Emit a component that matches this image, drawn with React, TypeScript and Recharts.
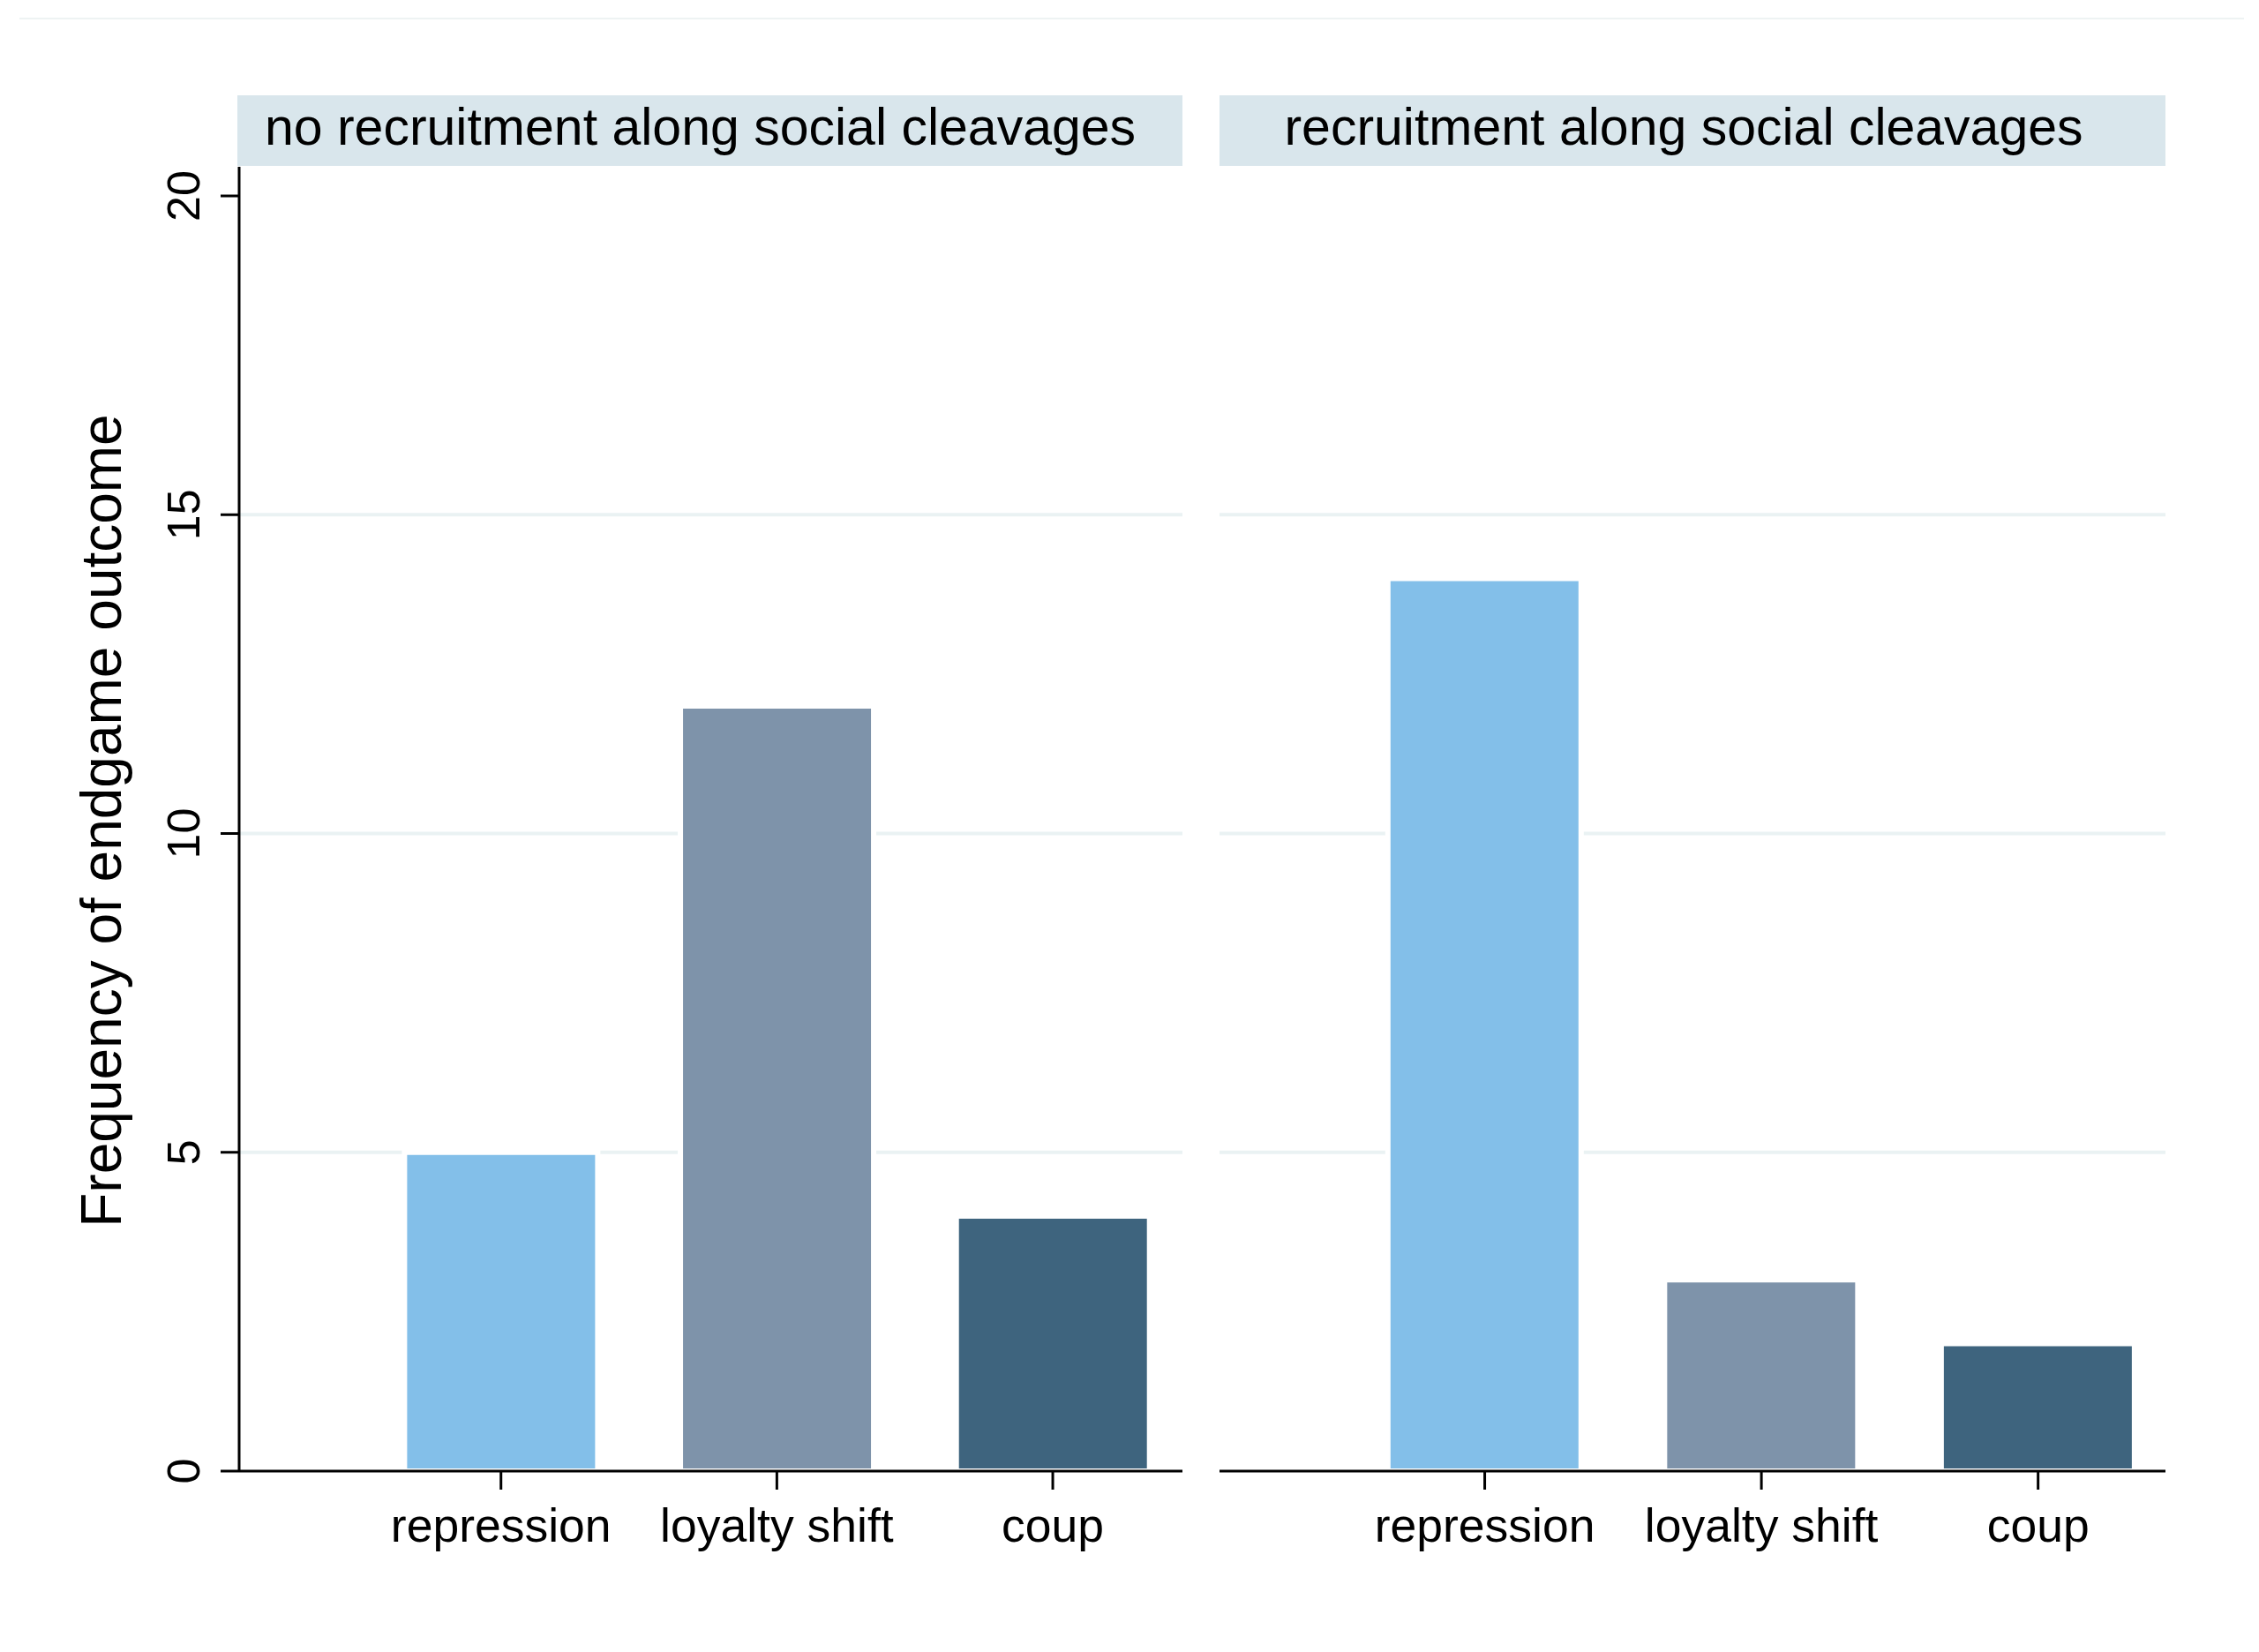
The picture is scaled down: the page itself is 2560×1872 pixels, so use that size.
import React from 'react';
import { BarChart, Bar, XAxis, YAxis, CartesianGrid, Cell } from 'recharts';

const categories = ['repression', 'loyalty shift', 'coup'];
const positions = [1, 2, 3];
const noCleavageValues = [5, 12, 4];
const cleavageValues = [14, 3, 2];
const barColors = ['#83bfe9', '#7e93aa', '#3e647e'];
const yTicks = [0, 5, 10, 15, 20];
const gridValues = [5, 10, 15];
const panelTitles = ['no recruitment along social cleavages', 'recruitment along social cleavages'];
const yAxisTitle = 'Frequency of endgame outcome';

const FONT = '"Liberation Sans", Arial, Helvetica, sans-serif';

const buildRows = (values: number[]) =>
  positions.map((p, i) => ({ pos: p, cat: categories[i], value: values[i] }));

const CatTick = (props: any) => {
  const { x, y, payload } = props;
  const idx = positions.indexOf(payload.value);
  return (
    <text x={x} y={y + 57} textAnchor="middle" fontFamily={FONT} fontSize={53.5} fill="#000">
      {categories[idx]}
    </text>
  );
};

const YTick = (props: any) => {
  const { x, y, payload } = props;
  const bx = x - 22;
  return (
    <text
      x={bx}
      y={y}
      transform={`rotate(-90, ${bx}, ${y})`}
      textAnchor="middle"
      fontFamily={FONT}
      fontSize={52}
      fill="#000"
    >
      {payload.value}
    </text>
  );
};

const PLOT_TOP = 189;
const PLOT_BOTTOM = 1667;
const LEFT_X_DOMAIN: [number, number] = [0.051, 3.47];
const RIGHT_X_DOMAIN: [number, number] = [0.0414, 3.4604];
const Y_DOMAIN: [number, number] = [0, 20.457];

function Panel({ values, left, width, plotLeft, plotRight, showY, xDomain }: any) {
  const rows = buildRows(values);
  const height = 1872;
  return (
    <div style={{ position: 'absolute', left, top: 0, width, height }}>
      <BarChart
        width={width}
        height={height}
        data={rows}
        margin={{ top: PLOT_TOP, right: width - plotRight, bottom: 0, left: showY ? 0 : plotLeft }}
      >
        <CartesianGrid
          horizontal={true}
          vertical={false}
          horizontalValues={gridValues}
          stroke="#eaf2f3"
          strokeWidth={4}
        />
        <XAxis
          dataKey="pos"
          type="number"
          domain={xDomain}
          ticks={positions}
          allowDataOverflow
          height={height - PLOT_BOTTOM}
          tickSize={21}
          tickMargin={2}
          tickLine={{ stroke: '#000', strokeWidth: 3 }}
          axisLine={{ stroke: '#000', strokeWidth: 3 }}
          tick={<CatTick />}
          interval={0}
        />
        <YAxis
          type="number"
          domain={Y_DOMAIN}
          ticks={yTicks}
          allowDataOverflow
          hide={!showY}
          width={plotLeft}
          tickSize={21}
          tickMargin={2}
          tickLine={{ stroke: '#000', strokeWidth: 3 }}
          axisLine={{ stroke: '#000', strokeWidth: 3 }}
          tick={<YTick />}
          interval={0}
        />
        <Bar dataKey="value" barSize={219} stroke="#ffffff" strokeWidth={6} isAnimationActive={false}>
          {rows.map((r, i) => (
            <Cell key={r.cat} fill={barColors[i]} />
          ))}
        </Bar>
      </BarChart>
    </div>
  );
}

const headerStyle = (left: number, width: number): React.CSSProperties => ({
  position: 'absolute',
  left,
  top: 108,
  width,
  height: 80,
  background: '#d9e6ec',
  fontFamily: FONT,
  fontSize: 59,
  lineHeight: '80px',
  textAlign: 'center',
  color: '#000',
  whiteSpace: 'nowrap',
});

export default function App() {
  return (
    <div style={{ position: 'absolute', left: 0, top: 0, width: 2560, height: 1872, background: '#fff', overflow: 'hidden' }}>
      <div style={{ position: 'absolute', left: 22, top: 20, width: 2521, height: 2, background: '#eef3f3' }} />
      <Panel values={noCleavageValues} left={0} width={1380} plotLeft={271} plotRight={1340} showY={true} xDomain={LEFT_X_DOMAIN} />
      <Panel values={cleavageValues} left={1340} width={1220} plotLeft={42} plotRight={1114} showY={false} xDomain={RIGHT_X_DOMAIN} />
      <div style={headerStyle(269, 1071)}>
        <span style={{ position: 'relative', top: -4, left: -11 }}>{panelTitles[0]}</span>
      </div>
      <div style={headerStyle(1382, 1072)}>
        <span style={{ position: 'relative', top: -4, left: -10 }}>{panelTitles[1]}</span>
      </div>
      <svg style={{ position: 'absolute', left: 0, top: 0, pointerEvents: 'none' }} width={300} height={1872}>
        <text
          x={137}
          y={930}
          transform="rotate(-90, 137, 930)"
          textAnchor="middle"
          fontFamily={FONT}
          fontSize={64}
          fill="#000"
        >
          {yAxisTitle}
        </text>
      </svg>
    </div>
  );
}
